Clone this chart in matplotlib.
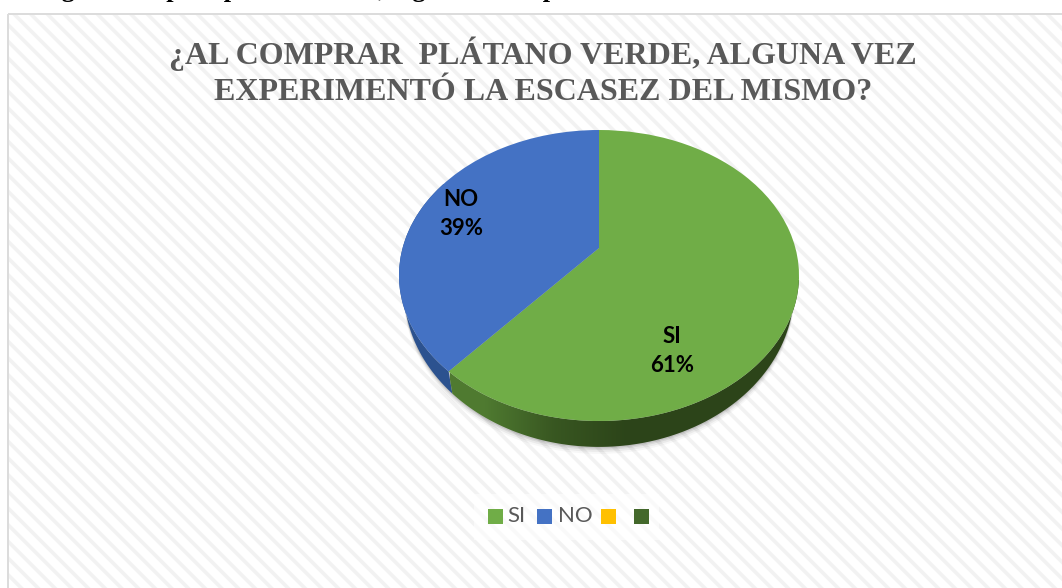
"""Pie chart: escasez de platano verde."""
import numpy as np
import matplotlib
matplotlib.use("Agg")
import matplotlib.pyplot as plt
from matplotlib.patches import Polygon, Rectangle
from matplotlib.transforms import Transform

W, H = 1062, 588

title_lines = ["¿AL COMPRAR  PLÁTANO VERDE, ALGUNA VEZ",
               "EXPERIMENTÓ LA ESCASEZ DEL MISMO?"]
header = "Fig. Al comprar plátano verde, alguna vez experimentó la escasez del mismo"
categories = ["SI", "NO"]
values = [61.4, 38.6]
legend_labels = ["SI", "NO", "", ""]
legend_colors = ["#70ad47", "#4472c4", "#ffc000", "#43682b"]

CX, APEX_Y = 599.0, 248.0
K, A, B = -0.189, 140.3, 196.4


class Tilt(Transform):
    # unit circle -> tilted disc in pixel coordinates
    input_dims = output_dims = 2

    def transform_non_affine(self, xy):
        xy = np.asarray(xy)
        u, v = xy[:, 0], -xy[:, 1]
        d = 1 + K * v
        return np.column_stack([CX + B * u / d, APEX_Y + A * v / d])


def to_bottom(p):
    # lower rim of the disc, a slightly different ellipse
    return np.column_stack([CX + (p[:, 0] - CX) * 0.975,
                            291 + (p[:, 1] - 276) * 157 / 146])


def rim(a0, a1):
    # angles measured clockwise from the top, in degrees
    t = np.radians(np.linspace(a0, a1, 120))
    return Tilt().transform_non_affine(np.column_stack([np.sin(t), np.cos(t)]))


def side(a0, a1):
    top = rim(a0, a1)
    return np.vstack([top, to_bottom(top)[::-1]])


fig = plt.figure(figsize=(W / 100, H / 100), dpi=100)
ax = fig.add_axes([0, 0, 1, 1])
tilt = Tilt() + ax.transData

wedges, _ = ax.pie(values, colors=legend_colors[:2], startangle=90,
                   counterclock=False, radius=1.0)
ax.set_aspect("auto")
ax.set_xlim(0, W)
ax.set_ylim(H, 0)
ax.axis("off")

# chart area: diagonal stripes and grey frame
plt.rcParams["hatch.linewidth"] = 2.6
ax.add_patch(Rectangle((8, 14), 1060, 590, facecolor="white",
                       edgecolor="#f2f2f2", hatch="\\\\", lw=0, zorder=0))
ax.add_patch(Rectangle((7.5, 13.5), 1060, 590, fill=False,
                       edgecolor="#dcdcdc", lw=1.4, zorder=0.5))

# header of the page, only its descenders survive the crop
ax.text(37.5, -3.5, header, fontsize=19, family="Liberation Serif", weight="bold",
        color="black", va="baseline", ha="left")

for i, line in enumerate(title_lines):
    ax.text(543, 64 + i * 36, line, fontsize=23, family="Liberation Serif",
            weight="bold", color="#595959", ha="center", va="baseline")

split = values[0] / sum(values) * 360

# soft shadow under the pie
low = to_bottom(rim(0, 360))
for grow, alpha in zip([7, 5, 3, 1.5], [0.03, 0.05, 0.07, 0.09]):
    ax.add_patch(Polygon(low + [0, grow], color="black", alpha=alpha, lw=0, zorder=1))

# sides: green one has a horizontal shade, blue one stays flat
ax.add_patch(Polygon(side(split, 300), facecolor="#2c528f", lw=0, zorder=2))
clip = Polygon(side(70, split), transform=ax.transData, lw=0, facecolor="none", zorder=2)
ax.add_patch(clip)
shade = np.array([[0.31, 0.48, 0.19], [0.22, 0.34, 0.13], [0.175, 0.27, 0.10],
                  [0.175, 0.27, 0.10], [0.175, 0.27, 0.10]])
img = ax.imshow(shade[None, :, :], extent=(450, 800, 460, 280), aspect="auto",
                interpolation="bilinear", zorder=2.1)
img.set_clip_path(clip)
ax.set_xlim(0, W)
ax.set_ylim(H, 0)

for w in wedges:
    w.set_transform(tilt)
    w.set_zorder(3)

# data labels
label_pos = [(672, 351), (461, 214)]
for cat, val, (x, y) in zip(categories, values, label_pos):
    ax.text(x, y, f"{cat}\n{val:.0f}%", fontsize=16, family="Lato", weight="bold",
            color="black", ha="center", va="center", linespacing=1.45, zorder=4)

# legend
swatch_x = [488, 537, 601, 634]
text_x = [507, 558]
ax.add_patch(Rectangle((474, 494), 185, 46, facecolor="white", lw=0, alpha=0.6, zorder=1))
for x, c in zip(swatch_x, legend_colors):
    ax.add_patch(Rectangle((x, 509), 15, 15, facecolor=c, lw=0, zorder=2))
for x, lab in zip(text_x, legend_labels):
    ax.text(x, 516, lab, fontsize=16, family="Lato", color="#595959",
            ha="left", va="center", zorder=2)

fig.savefig("out.png", dpi=100)
plt.close(fig)
